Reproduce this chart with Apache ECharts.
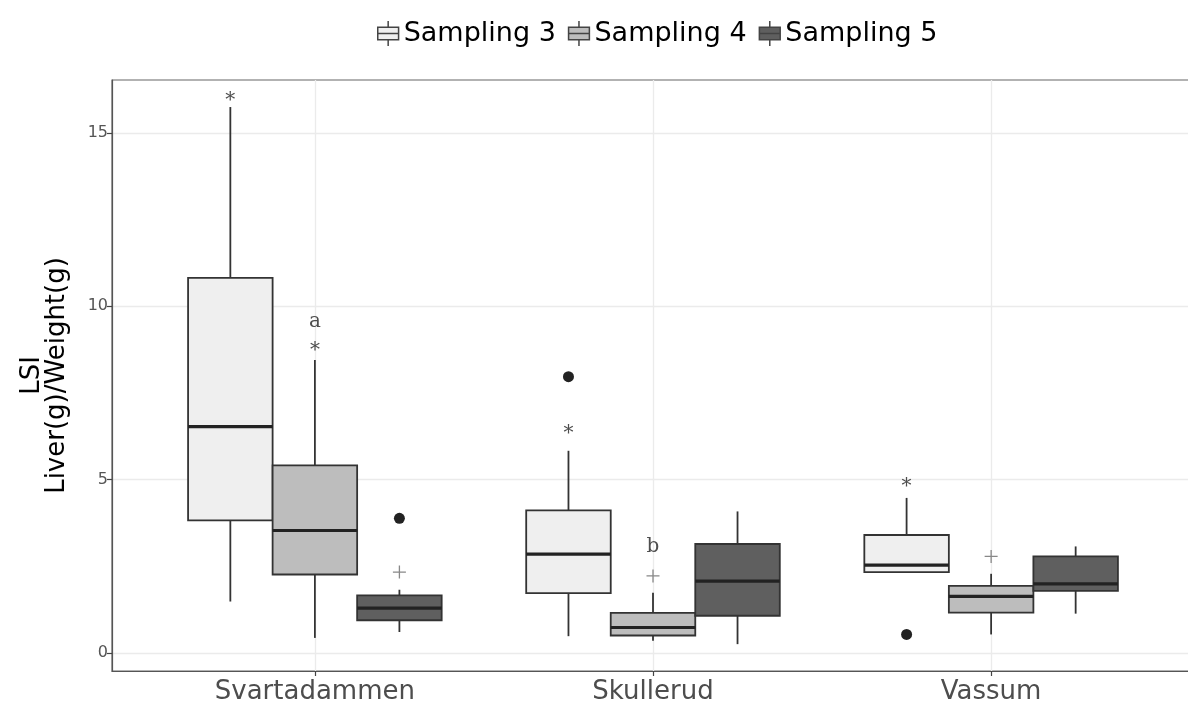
<!DOCTYPE html>
<html>
<head>
<meta charset="utf-8">
<script src="https://cdn.jsdelivr.net/npm/echarts@6/dist/echarts.min.js"></script>
<style>
html,body{margin:0;padding:0;background:#fff;}
#main{width:1188px;height:709px;}
</style>
</head>
<body>
<div id="main"></div>
<script>
const categories = ['Svartadammen', 'Skullerud', 'Vassum'];
const seriesNames = ['Sampling 3', 'Sampling 4', 'Sampling 5'];
const yTicks = [0, 5, 10, 15];
// per category: [min, q1, median, q3, max]
const sampling3 = [[1.48, 3.82, 6.53, 10.82, 15.75], [0.48, 1.72, 2.85, 4.11, 5.83], [2.33, 2.33, 2.53, 3.40, 4.47]];
const sampling4 = [[0.43, 2.26, 3.53, 5.41, 8.45], [0.35, 0.50, 0.73, 1.15, 1.73], [0.53, 1.16, 1.63, 1.93, 2.28]];
const sampling5 = [[0.60, 0.94, 1.29, 1.66, 1.82], [0.25, 1.07, 2.07, 3.14, 4.08], [1.13, 1.79, 1.99, 2.78, 3.07]];
// [categoryIndex, seriesIndex, value]
const dotPoints = [[0, 2, 3.88], [1, 0, 7.97], [2, 0, 0.53]];
const plusPoints = [[0, 2, 2.33], [1, 1, 2.22], [2, 1, 2.78]];
const starPoints = [[0, 0, 16.1], [0, 1, 8.88], [1, 0, 6.48], [2, 0, 4.97]];
const letterPoints = [[0, 1, 9.55, 'a'], [1, 1, 3.05, 'b']];

const allStats = [sampling3, sampling4, sampling5];
const fills = ['#efefef', '#bdbdbd', '#5f5f5f'];
const dodge = [-0.25, 0, 0.25];
const boxW = 0.25;
const SANS = 'DejaVu Sans';

function xPos(ci, si) { return ci + 1 + dodge[si]; }

function makeRender(fill) {
  return function (params, api) {
    const x = api.value(0);
    const pMin = api.coord([x, api.value(1)]);
    const pQ1 = api.coord([x, api.value(2)]);
    const pMed = api.coord([x, api.value(3)]);
    const pQ3 = api.coord([x, api.value(4)]);
    const pMax = api.coord([x, api.value(5)]);
    const w = api.size([boxW, 0])[0];
    const cx = pMed[0];
    const stroke = '#333';
    return {
      type: 'group',
      children: [
        { type: 'line', shape: { x1: cx, y1: pMax[1], x2: cx, y2: pQ3[1] }, style: { stroke: stroke, lineWidth: 1.8 } },
        { type: 'line', shape: { x1: cx, y1: pQ1[1], x2: cx, y2: pMin[1] }, style: { stroke: stroke, lineWidth: 1.8 } },
        { type: 'rect', shape: { x: cx - w / 2, y: pQ3[1], width: w, height: pQ1[1] - pQ3[1] }, style: { fill: fill, stroke: stroke, lineWidth: 1.8 } },
        { type: 'line', shape: { x1: cx - w / 2, y1: pMed[1], x2: cx + w / 2, y2: pMed[1] }, style: { stroke: '#222', lineWidth: 3.2 } }
      ]
    };
  };
}

const boxSeries = allStats.map(function (stats, si) {
  return {
    name: seriesNames[si],
    type: 'custom',
    renderItem: makeRender(fills[si]),
    itemStyle: { color: fills[si], borderColor: '#333' },
    encode: { x: 0, y: [1, 2, 3, 4, 5] },
    data: stats.map(function (s, ci) { return [xPos(ci, si)].concat(s); }),
    z: 3,
    silent: true
  };
});

function textScatter(points, textFn, font, size, color, offset) {
  return {
    type: 'scatter',
    symbolSize: 1,
    itemStyle: { color: 'rgba(0,0,0,0)' },
    data: points.map(function (p) { return [xPos(p[0], p[1]), p[2], textFn(p)]; }),
    label: {
      show: true, position: 'inside', offset: offset,
      formatter: function (pp) { return pp.value[2]; },
      fontFamily: font, fontSize: size, color: color
    },
    z: 5, silent: true
  };
}

const option = {
  animation: false,
  backgroundColor: '#fff',
  legend: {
    left: 372, top: 15,
    itemWidth: 25, itemHeight: 25, itemGap: 12,
    textStyle: { fontFamily: SANS, fontSize: 27, color: '#000', padding: [0, 0, 0, -2] },
    data: seriesNames.map(function (n, i) {
      return {
        name: n,
        icon: 'path://M2,6H22V18H2ZM12,0V6M12,18V24M2,12H22',
        itemStyle: { color: fills[i], borderColor: '#444', borderWidth: 1.5 }
      };
    })
  },
  grid: {
    left: 112, top: 80, right: -6, bottom: 38,
    show: true, borderColor: '#666', borderWidth: 1.2,
    containLabel: false, outerBoundsMode: 'none'
  },
  xAxis: {
    type: 'value', min: 0.4, max: 3.6,
    axisLine: { show: true, onZero: false, lineStyle: { color: '#555', width: 1.2 } },
    axisTick: { show: true, customValues: [1, 2, 3], length: 5, lineStyle: { color: '#444', width: 1.2 } },
    axisLabel: {
      customValues: [1, 2, 3],
      formatter: function (v) { return categories[Math.round(v) - 1] || ''; },
      fontFamily: SANS, fontSize: 26, color: '#4d4d4d', margin: 8
    },
    splitLine: { show: true, lineStyle: { color: '#ebebeb', width: 1.3 } }
  },
  yAxis: {
    type: 'value', min: -0.525, max: 16.53,
    name: 'LSI\nLiver(g)/Weight(g)',
    nameLocation: 'middle', nameGap: 42, nameRotate: 90,
    nameTextStyle: { fontFamily: SANS, fontSize: 26, color: '#000', lineHeight: 25 },
    axisLine: { show: true, lineStyle: { color: '#555', width: 1.2 } },
    axisTick: { show: true, customValues: yTicks, length: 5, lineStyle: { color: '#444', width: 1.2 } },
    axisLabel: { customValues: yTicks, fontFamily: SANS, fontSize: 16, color: '#555', margin: 4 },
    splitLine: { show: true, lineStyle: { color: '#ebebeb', width: 1.3 } }
  },
  series: boxSeries.concat([
    {
      type: 'scatter', symbol: 'circle', symbolSize: 11,
      itemStyle: { color: '#222', opacity: 1 },
      data: dotPoints.map(function (p) { return [xPos(p[0], p[1]), p[2]]; }),
      z: 5, silent: true
    },
    {
      type: 'scatter', symbol: 'path://M0,6H12M6,0V12', symbolSize: 13,
      itemStyle: { color: 'none', borderColor: '#888', borderWidth: 1.3, opacity: 1 },
      data: plusPoints.map(function (p) { return [xPos(p[0], p[1]), p[2]]; }),
      z: 5, silent: true
    },
    textScatter(starPoints, function () { return '*'; }, 'DejaVu Serif', 20, '#222', [0, 6]),
    textScatter(letterPoints, function (p) { return p[3]; }, 'DejaVu Serif', 20, '#222', [0, 0])
  ])
};

const chart = echarts.init(document.getElementById('main'), null, { renderer: 'canvas' });
chart.setOption(option);
</script>
</body>
</html>
